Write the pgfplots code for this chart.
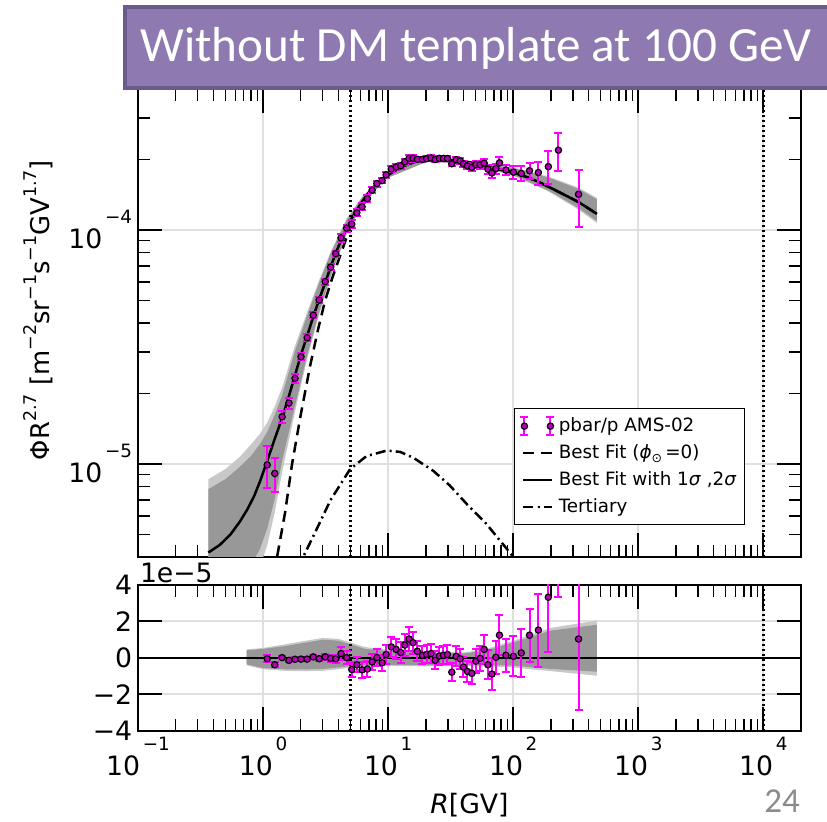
\documentclass[border=0pt]{standalone}
\usepackage{fontspec}
\setmainfont{DejaVu Sans}
\newfontfamily\calibri{Carlito}
\usepackage{pgfplots}
\pgfplotsset{compat=1.18}
\usepackage{pgfplotstable}

\definecolor{boxfill}{RGB}{142,122,176}
\definecolor{boxedge}{RGB}{108,90,140}
\definecolor{gridc}{RGB}{224,224,224}
\definecolor{bandA}{RGB}{152,152,152}
\definecolor{bandB}{RGB}{200,200,200}
\definecolor{mag}{RGB}{255,0,255}
\definecolor{mface}{RGB}{185,0,185}

\newcommand{\tl}[2]{#1\hspace{0.1em}\raisebox{0.94em}{\fontsize{11}{11}\selectfont #2}}
\newcommand{\spx}[1]{\raisebox{0.5em}{\fontsize{10.5}{10.5}\selectfont #1}}

\pgfplotstableread{
R y e r
1.08 0.99 0.20 -0.04
1.24 0.91 0.15 -0.37
1.42 1.59 0.10 0.02
1.61 1.82 0.10 -0.13
1.80 2.32 0.10 -0.07
2.01 2.87 0.10 -0.06
2.25 3.46 0.12 -0.06
2.52 4.32 0.12 0.06
2.81 5.01 0.15 -0.04
3.14 6.01 0.17 0.06
3.47 6.93 0.20 -0.02
3.81 7.91 0.22 -0.04
4.20 9.24 0.35 0.24
4.66 10.17 0.35 0.02
5.12 10.57 0.40 -0.63
5.62 11.83 0.40 -0.37
6.19 12.55 0.42 -0.65
6.83 13.60 0.45 -0.60
7.45 14.78 0.45 -0.22
8.12 15.77 0.45 0.02
8.95 16.24 0.45 -0.26
9.64 17.19 0.50 0.19
10.6 18.21 0.55 0.61
11.6 18.57 0.55 0.47
12.6 18.80 0.60 0.30
13.6 19.56 0.60 0.71
14.7 20.19 0.65 1.04
15.8 20.24 0.60 0.84
17.1 20.02 0.55 0.37
18.8 20.00 0.50 0.15
20.3 20.15 0.50 0.20
22.0 20.29 0.50 0.24
23.8 19.97 0.50 -0.13
25.7 20.21 0.50 0.11
27.7 20.20 0.50 0.15
29.8 20.19 0.50 0.19
32.3 19.17 0.50 -0.78
35.0 19.94 0.55 0.09
37.7 19.71 0.55 -0.04
40.0 19.15 0.55 -0.50
43.1 18.76 0.60 -0.74
46.7 18.51 0.60 -0.84
50.3 19.03 0.65 -0.17
54.5 18.98 0.70 -0.02
58.6 19.27 0.80 0.47
62.8 18.18 0.80 -0.37
67.6 17.52 0.90 -0.88
72.7 18.29 0.90 0.04
77.7 19.35 1.10 1.25
87.5 18.00 0.90 0.15
100.5 17.64 1.10 0.09
116 17.43 1.30 0.28
135 17.90 1.45 1.25
159 17.58 2.00 1.53
191 18.63 3.00 3.33
230 21.90 4.00 7.35
333 14.19 3.90 1.04
}\datatab

\pgfplotstableread{
R m
0.365 0.418
0.45 0.45
0.55 0.50
0.65 0.565
0.75 0.64
0.85 0.73
0.94 0.835
1.08 1.03
1.24 1.28
1.42 1.57
1.61 1.95
1.80 2.39
2.01 2.93
2.25 3.52
2.52 4.26
2.81 5.05
3.14 5.95
3.47 6.95
3.81 7.95
4.20 9.00
4.66 10.15
5.12 11.20
5.62 12.20
6.19 13.20
6.83 14.20
7.45 15.00
8.12 15.75
8.95 16.50
9.64 17.00
10.6 17.60
11.6 18.10
12.6 18.50
13.6 18.85
14.7 19.15
15.8 19.40
17.1 19.65
18.8 19.85
20.3 19.95
22.0 20.05
25.7 20.10
29.8 20.00
35.0 19.85
40.0 19.65
46.7 19.35
54.5 19.00
62.8 18.55
72.7 18.25
87.5 17.85
100.5 17.55
116 17.15
135 16.65
159 16.05
191 15.30
230 14.55
333 13.15
467 11.70
}\modeltab

\pgfplotstableread{
R m
1.25 0.34
1.294 0.40
1.50 0.62
1.706 1.00
2.00 1.62
2.377 2.62
2.75 3.75
3.13 4.98
3.60 6.30
4.13 7.74
4.88 10.00
5.97 12.40
7.00 14.10
7.87 15.20
9.64 16.95
12.6 18.50
14.7 19.15
17.1 19.65
20.3 19.95
25.7 20.10
35.0 19.85
46.7 19.35
62.8 18.55
87.5 17.85
116 17.15
159 16.05
230 14.55
333 13.15
467 11.70
}\dashtab

\pgfplotstableread{
R m
1.90 0.360
2.61 0.510
3.46 0.700
4.97 0.950
6.72 1.080
9.77 1.140
12.5 1.125
16.0 1.060
23.0 0.933
31.0 0.810
42.6 0.673
60.0 0.560
78.7 0.469
100.5 0.400
112 0.360
}\terttab

\begin{document}
\begin{tikzpicture}
\useasboundingbox (0pt,0pt) rectangle (496.2pt,493.2pt);
% upper panel
\begin{axis}[at={(82.8pt,159pt)}, anchor=south west,
  scale only axis, width=397.8pt, height=280.8pt,
  xmode=log, xmin=0.1, xmax=2e4,
  xtick={0.1,1,10,100,1000,10000},
  minor xtick={0.2,0.3,0.4,0.5,0.6,0.7,0.8,0.9,2,3,4,5,6,7,8,9,20,30,40,50,60,70,80,90,200,300,400,500,600,700,800,900,2000,3000,4000,5000,6000,7000,8000,9000},
  tick align=inside,
  major tick length=14.4pt, minor tick length=7.2pt,
  tick style={black, line width=1.2pt},
  minor tick style={line width=0.9pt},
  axis line style={line width=1.5pt},
  grid=major, major grid style={gridc, line width=1.2pt},
  tick label style={font=\fontsize{16}{16}\selectfont},
  ymode=log, ymin=0.4, ymax=40,
  ytick={1,10}, yticklabels={\tl{10}{−5},\tl{10}{−4}},
  minor ytick={0.5,0.6,0.7,0.8,0.9,2,3,4,5,6,7,8,9,20,30},
  xticklabels={},
  legend style={at={(0.567,0.318)}, anchor=north west, draw=black, line width=0.6pt,
    fill=white, font=\fontsize{11}{13}\selectfont,
    inner xsep=3pt, inner ysep=3pt, row sep=1.2pt,
    nodes={inner sep=2pt, text height=8.5pt, text depth=2.5pt}},
  legend cell align=left,
]
% 2 sigma band
\addplot[fill=bandB, draw=none, forget plot] coordinates {
(0.365,0.86)(0.5,0.95)(0.65,1.07)(0.8,1.21)(0.94,1.34)(1.08,1.50)(1.24,1.76)(1.42,2.12)(1.8,3.2)(2.25,4.45)(2.81,6.10)(3.47,8.05)(4.66,11.15)(6.19,13.85)(9.64,17.45)(20.3,20.31)(40,19.95)(60,19.22)(100.5,18.5)(191,16.9)(333,15.15)(467,13.7)
(467,10.7)(333,12.2)(191,14.6)(100.5,17.03)(60,18.3)(40,19.2)(20.3,19.5)(9.64,16.55)(6.19,12.7)(4.66,9.6)(3.47,6.25)(2.81,4.35)(2.25,2.8)(1.8,1.67)(1.42,0.92)(1.24,0.62)(1.08,0.45)(0.94,0.36)(0.8,0.3)(0.65,0.26)(0.5,0.22)(0.365,0.2)};
% 1 sigma band
\addplot[fill=bandA, draw=none, forget plot] coordinates {
(0.365,0.78)(0.5,0.86)(0.65,0.97)(0.8,1.08)(0.94,1.21)(1.08,1.37)(1.24,1.62)(1.42,1.96)(1.8,3.04)(2.25,4.30)(2.81,5.95)(3.47,7.95)(4.66,11.05)(6.19,13.75)(9.64,17.40)(20.3,20.25)(40,19.90)(60,19.15)(100.5,18.40)(191,16.75)(333,14.95)(467,13.5)
(467,10.9)(333,12.4)(191,14.72)(100.5,17.13)(60,18.37)(40,19.25)(20.3,19.55)(9.64,16.62)(6.19,12.8)(4.66,9.7)(3.47,6.35)(2.81,4.45)(2.25,2.9)(1.8,1.77)(1.42,1.03)(1.24,0.71)(1.08,0.53)(0.94,0.43)(0.8,0.37)(0.65,0.32)(0.5,0.28)(0.365,0.25)};
\addplot[black, dash pattern=on 1.3pt off 1.7pt, line width=1.9pt, forget plot] coordinates {(4.97,0.4) (4.97,40)};
\addplot[black, dash pattern=on 1.3pt off 1.7pt, line width=1.9pt, forget plot] coordinates {(10000,0.4) (10000,40)};
\addplot[black, line width=1.5pt, dash pattern=on 6.5pt off 4pt, forget plot] table[x=R,y=m]{\dashtab};
\addplot[black, line width=1.5pt, dash pattern=on 6pt off 2.5pt on 1.2pt off 2.5pt, forget plot] table[x=R,y=m]{\terttab};
\addplot[black, line width=1.5pt, forget plot] table[x=R,y=m]{\modeltab};
\addplot[forget plot, only marks, mark=*, mark size=1.9pt,
    mark options={fill=mface, draw=black, line width=0.7pt, solid},
    error bars/.cd, y dir=both, y explicit,
    error bar style={mag, line width=1.2pt},
    error mark options={rotate=90, mag, line width=1.2pt, mark size=2.4pt}]
    table[x=R,y=y,y error=e]{\datatab};
\addlegendimage{legend image code/.code={
  \draw[mag, line width=1.2pt] (0.6pt,-5.4pt) -- (0.6pt,5.4pt) (-1.8pt,-5.4pt) -- (3pt,-5.4pt) (-1.8pt,5.4pt) -- (3pt,5.4pt);
  \draw[black, fill=mface, line width=0.7pt] (0.6pt,0pt) circle (1.9pt);
  \draw[mag, line width=1.2pt] (16.2pt,-5.4pt) -- (16.2pt,5.4pt) (13.8pt,-5.4pt) -- (18.6pt,-5.4pt) (13.8pt,5.4pt) -- (18.6pt,5.4pt);
  \draw[black, fill=mface, line width=0.7pt] (16.2pt,0pt) circle (1.9pt);}}
\addlegendentry{pbar/p AMS-02}
\addlegendimage{black, line width=1.5pt, dash pattern=on 6.5pt off 4pt}
\addlegendentry{Best Fit (\textit{ϕ}\raisebox{-0.25em}{\fontsize{7.5}{7.5}\selectfont ⊙}\,=0)}
\addlegendimage{black, line width=1.5pt}
\addlegendentry{Best Fit with 1\textit{σ} ,2\textit{σ}}
\addlegendimage{black, line width=1.5pt, dash pattern=on 6pt off 2.5pt on 1.2pt off 2.5pt}
\addlegendentry{Tertiary}
\end{axis}
% lower panel
\begin{axis}[at={(82.8pt,54.6pt)}, anchor=south west,
  scale only axis, width=397.8pt, height=87.6pt,
  xmode=log, xmin=0.1, xmax=2e4,
  xtick={0.1,1,10,100,1000,10000},
  minor xtick={0.2,0.3,0.4,0.5,0.6,0.7,0.8,0.9,2,3,4,5,6,7,8,9,20,30,40,50,60,70,80,90,200,300,400,500,600,700,800,900,2000,3000,4000,5000,6000,7000,8000,9000},
  tick align=inside,
  major tick length=14.4pt, minor tick length=7.2pt,
  tick style={black, line width=1.2pt},
  minor tick style={line width=0.9pt},
  axis line style={line width=1.5pt},
  grid=major, major grid style={gridc, line width=1.2pt},
  tick label style={font=\fontsize{16}{16}\selectfont},
  ymin=-4, ymax=4, ytick={-4,-2,0,2,4}, yticklabels={−4,−2,0,2,4},
  xticklabels={\tl{10}{−1},\tl{10}{0},\tl{10}{1},\tl{10}{2},\tl{10}{3},\tl{10}{4}},
]
\addplot[fill=bandB, draw=none, forget plot] coordinates {
(0.74,0.47)(1.0,0.55)(1.5,0.75)(2.0,0.90)(3.0,1.10)(4.0,1.05)(5.0,0.85)(6.5,0.60)(10,0.45)(20,0.36)(40,0.30)(60,0.48)(100,0.95)(200,1.65)(467,2.05)
(467,-0.97)(200,-0.72)(100,-0.52)(60,-0.46)(40,-0.45)(20,-0.45)(10,-0.43)(6.5,-0.46)(5.0,-0.52)(4.0,-0.62)(3.0,-0.70)(2.0,-0.72)(1.5,-0.70)(1.0,-0.62)(0.74,-0.40)};
\addplot[fill=bandA, draw=none, forget plot] coordinates {
(0.74,0.42)(1.0,0.50)(1.5,0.65)(2.0,0.80)(3.0,1.00)(4.0,0.95)(5.0,0.75)(6.5,0.50)(10,0.38)(20,0.30)(40,0.25)(60,0.40)(100,0.85)(200,1.50)(467,1.82)
(467,-0.75)(200,-0.60)(100,-0.42)(60,-0.38)(40,-0.40)(20,-0.40)(10,-0.38)(6.5,-0.40)(5.0,-0.45)(4.0,-0.52)(3.0,-0.60)(2.0,-0.63)(1.5,-0.62)(1.0,-0.55)(0.74,-0.35)};
\addplot[black, line width=1pt, forget plot] coordinates {(0.1,0) (20000,0)};
\addplot[black, dash pattern=on 1.3pt off 1.7pt, line width=1.9pt, forget plot] coordinates {(4.97,-4) (4.97,4)};
\addplot[black, dash pattern=on 1.3pt off 1.7pt, line width=1.9pt, forget plot] coordinates {(10000,-4) (10000,4)};
\addplot[forget plot, only marks, mark=*, mark size=1.9pt,
    mark options={fill=mface, draw=black, line width=0.7pt, solid},
    error bars/.cd, y dir=both, y explicit,
    error bar style={mag, line width=1.2pt},
    error mark options={rotate=90, mag, line width=1.2pt, mark size=2.4pt}]
    table[x=R,y=r,y error=e]{\datatab};
\end{axis}
% texts
\node[anchor=base west, inner sep=0pt, font=\fontsize{16}{16}\selectfont] at (83.8pt,143.6pt) {1e−5};
\node[rotate=90, font=\fontsize{15.5}{15.5}\selectfont] at (23.1pt,307.2pt) {ΦR\spx{2.7} [m\spx{−2}sr\spx{−1}s\spx{−1}GV\spx{1.7}]};
\node[font=\fontsize{16}{16}\selectfont] at (281.7pt,10.2pt) {\textit{R}[GV]};
% title box
\draw[fill=boxfill, draw=boxedge, line width=2.4pt] (75pt,440.4pt) rectangle (500pt,489pt);
\node[text=white, font=\calibri\fontsize{29.5}{29.5}\selectfont] at (285.6pt,464.4pt) {Without DM template at 100 GeV};
\node[text=black!45, font=\calibri\fontsize{21}{21}\selectfont] at (469.2pt,12.6pt) {24};
\end{tikzpicture}
\end{document}
